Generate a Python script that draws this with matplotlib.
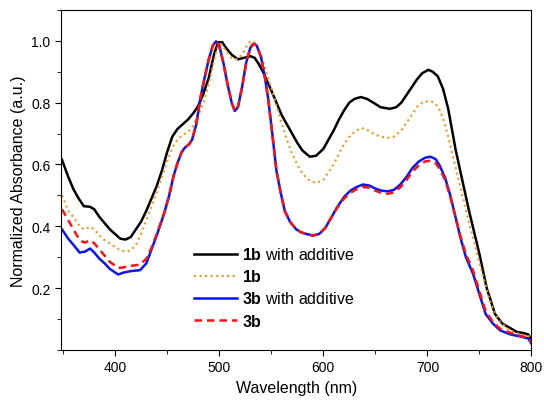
import numpy as np
import matplotlib.pyplot as plt
from matplotlib.ticker import MultipleLocator

plt.rcParams['font.family'] = ['Liberation Sans', 'DejaVu Sans']
plt.rcParams['mathtext.fontset'] = 'custom'
plt.rcParams['mathtext.bf'] = 'Liberation Sans:bold'
plt.rcParams['mathtext.rm'] = 'Liberation Sans'

# 1b with additive (black)
wl_1b_add = [349, 355, 360, 365, 370, 376, 380, 385, 390, 395, 400, 405, 410, 415, 420, 425, 430,
             435, 440, 445, 450, 455, 460, 465, 470, 475, 480, 485, 490, 495, 499, 503, 507, 512,
             518, 524, 530, 534, 538, 542, 546, 550, 555, 560, 565, 570, 575, 580, 587, 593, 600,
             605, 610, 615, 620, 625, 630, 636, 642, 648, 655, 664, 670, 675, 680, 685, 690, 695,
             701, 705, 710, 715, 720, 727, 733, 740, 745, 750, 757, 765, 772, 780, 786, 792, 797, 800]
a_1b_add = [0.615, 0.56, 0.52, 0.49, 0.465, 0.463, 0.455, 0.43, 0.41, 0.39, 0.375, 0.36, 0.357, 0.365,
            0.39, 0.415, 0.45, 0.49, 0.53, 0.58, 0.64, 0.69, 0.715, 0.73, 0.745, 0.765, 0.79, 0.83,
            0.88, 0.955, 0.995, 0.995, 0.975, 0.955, 0.94, 0.945, 0.95, 0.945, 0.925, 0.9, 0.87,
            0.84, 0.80, 0.76, 0.73, 0.70, 0.67, 0.645, 0.625, 0.628, 0.65, 0.68, 0.71, 0.745, 0.775,
            0.80, 0.812, 0.818, 0.812, 0.80, 0.785, 0.78, 0.785, 0.80, 0.825, 0.85, 0.875, 0.895,
            0.906, 0.90, 0.885, 0.845, 0.78, 0.65, 0.557, 0.45, 0.38, 0.31, 0.20, 0.116, 0.085, 0.07,
            0.058, 0.055, 0.05, 0.03]

# 1b (orange dotted)
wl_1b = [349, 355, 360, 365, 370, 376, 380, 385, 390, 395, 400, 405, 410, 415, 420, 425, 430,
         435, 440, 445, 450, 455, 460, 465, 470, 475, 480, 485, 490, 494, 498, 502, 507, 512,
         517, 522, 526, 530, 534, 538, 542, 546, 550, 555, 560, 565, 570, 575, 580, 586, 593, 600,
         605, 610, 615, 620, 625, 630, 636, 642, 648, 655, 662, 668, 675, 680, 685, 690, 695,
         703, 708, 712, 716, 720, 725, 730, 735, 740, 745, 750, 755, 760, 765, 770, 775, 780,
         790, 797, 800]
a_1b = [0.50, 0.45, 0.43, 0.405, 0.39, 0.398, 0.39, 0.37, 0.355, 0.345, 0.333, 0.322, 0.318, 0.322,
        0.34, 0.375, 0.42, 0.465, 0.51, 0.56, 0.61, 0.655, 0.68, 0.695, 0.705, 0.725, 0.76, 0.80,
        0.86, 0.92, 0.975, 0.99, 0.965, 0.945, 0.94, 0.955, 0.98, 0.998, 0.995, 0.97, 0.935,
        0.89, 0.85, 0.79, 0.735, 0.68, 0.635, 0.60, 0.57, 0.55, 0.54, 0.55, 0.575, 0.60, 0.635,
        0.665, 0.69, 0.705, 0.718, 0.712, 0.70, 0.69, 0.686, 0.69, 0.71, 0.735, 0.76, 0.785, 0.80,
        0.806, 0.795, 0.775, 0.74, 0.69, 0.62, 0.55, 0.48, 0.41, 0.35, 0.28, 0.22, 0.16, 0.12,
        0.09, 0.075, 0.062, 0.05, 0.045, 0.025]

# 3b with additive (blue)
wl_3b_add = [349, 355, 360, 366, 371, 376, 380, 385, 390, 395, 403, 408, 415, 424, 430, 435, 440,
             447, 452, 456, 460, 464, 467, 471, 474, 478, 482, 486, 490, 494, 497, 500, 504, 508,
             512, 515, 518, 522, 526, 530, 533, 536, 540, 544, 547, 551, 555, 559, 563, 568, 574,
             579, 584, 590, 596, 602, 608, 613, 620, 626, 632, 638, 644, 650, 656, 662, 668, 674,
             680, 686, 692, 698, 703, 708, 712, 717, 722, 727, 732, 737, 744, 750, 756, 763,
             770, 780, 790, 797, 800]
a_3b_add = [0.39, 0.36, 0.34, 0.315, 0.318, 0.328, 0.315, 0.295, 0.28, 0.262, 0.244, 0.25, 0.255,
            0.258, 0.28, 0.325, 0.37, 0.44, 0.50, 0.56, 0.605, 0.64, 0.654, 0.665, 0.68, 0.73, 0.815,
            0.88, 0.94, 0.985, 0.998, 0.985, 0.93, 0.86, 0.80, 0.773, 0.785, 0.85, 0.93, 0.978,
            0.99, 0.985, 0.95, 0.88, 0.815, 0.70, 0.58, 0.51, 0.45, 0.415, 0.39, 0.38, 0.375,
            0.37, 0.375, 0.395, 0.43, 0.46, 0.495, 0.515, 0.527, 0.535, 0.532, 0.522, 0.515, 0.513,
            0.518, 0.535, 0.56, 0.59, 0.61, 0.622, 0.625, 0.617, 0.595, 0.557, 0.50, 0.43, 0.36,
            0.30, 0.245, 0.18, 0.116, 0.085, 0.063, 0.05, 0.043, 0.037, 0.02]

# 3b (red dashed)
wl_3b = [349, 355, 360, 366, 371, 376, 380, 385, 390, 395, 403, 408, 415, 424, 430, 435, 440,
         447, 452, 456, 460, 464, 467, 471, 474, 478, 482, 486, 490, 494, 497, 500, 504, 508,
         512, 515, 518, 522, 526, 530, 533, 536, 540, 544, 547, 551, 555, 559, 563, 568, 574,
         579, 584, 590, 596, 602, 608, 613, 620, 626, 632, 638, 644, 650, 656, 662, 668, 674,
         680, 686, 692, 698, 703, 708, 712, 717, 722, 727, 732, 737, 744, 750, 756, 763,
         770, 780, 790, 797, 800]
a_3b = [0.455, 0.42, 0.39, 0.355, 0.347, 0.355, 0.345, 0.325, 0.305, 0.285, 0.265, 0.267, 0.272,
        0.276, 0.295, 0.33, 0.375, 0.44, 0.50, 0.56, 0.605, 0.64, 0.654, 0.665, 0.68, 0.73, 0.815,
        0.88, 0.94, 0.985, 0.998, 0.985, 0.93, 0.86, 0.80, 0.773, 0.785, 0.85, 0.93, 0.978,
        0.99, 0.985, 0.95, 0.88, 0.815, 0.70, 0.58, 0.51, 0.45, 0.415, 0.39, 0.38, 0.375,
        0.37, 0.375, 0.395, 0.43, 0.458, 0.49, 0.508, 0.52, 0.527, 0.525, 0.515, 0.508, 0.505,
        0.51, 0.526, 0.55, 0.578, 0.598, 0.61, 0.612, 0.604, 0.585, 0.55, 0.495, 0.43, 0.365,
        0.31, 0.255, 0.19, 0.125, 0.09, 0.068, 0.055, 0.045, 0.04, 0.025]

fig = plt.figure(figsize=(5.44, 4.02), dpi=100)
ax = fig.add_axes([0.112, 0.127, 0.865, 0.846])

ax.plot(wl_1b_add, a_1b_add, color='black', lw=1.8, label=r'$\mathbf{1b}$ with additive')
ax.plot(wl_1b, a_1b, color='#f0961e', lw=1.5, ls=':', label=r'$\mathbf{1b}$')
ax.plot(wl_3b_add, a_3b_add, color='#0a14f0', lw=1.8, label=r'$\mathbf{3b}$ with additive')
ax.plot(wl_3b, a_3b, color='#ff1010', lw=1.8, ls=(0, (3, 2)), label=r'$\mathbf{3b}$')

ax.set_xlim(348, 800)
ax.set_ylim(0.0, 1.1)
ax.xaxis.set_major_locator(MultipleLocator(100))
ax.xaxis.set_minor_locator(MultipleLocator(50))
ax.set_yticks([0.2, 0.4, 0.6, 0.8, 1.0])
ax.yaxis.set_minor_locator(MultipleLocator(0.1))
ax.tick_params(which='both', direction='out', labelsize=10, top=False, right=False)
ax.tick_params(which='major', length=4)
ax.tick_params(which='minor', length=3)
ax.set_xlabel('Wavelength (nm)', fontsize=11.5)
ax.set_ylabel('Normalized Absorbance (a.u.)', fontsize=11.5)

ax.legend(loc='upper left', bbox_to_anchor=(0.252, 0.347), frameon=False, fontsize=11.5,
          handlelength=2.7, handletextpad=0.3, labelspacing=0.38)

fig.savefig('out.png', dpi=100)
